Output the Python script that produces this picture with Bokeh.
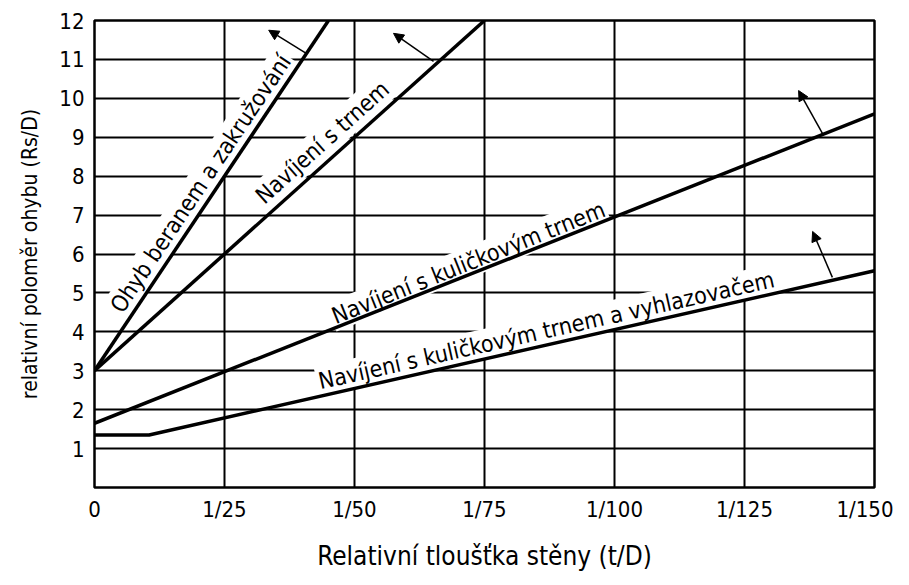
from bokeh.plotting import figure
from bokeh.models import ColumnDataSource, FixedTicker, Arrow, NormalHead, Range1d
from bokeh.embed import file_html
from bokeh.resources import INLINE
from bokeh.core.properties import value

FONT = "DejaVu Sans Condensed"

# axis ticks
x_ticks = [0, 25, 50, 75, 100, 125, 150]
x_labels = ["0", "1/25", "1/50", "1/75", "1/100", "1/125", "1/150"]
y_ticks = list(range(1, 13))
x_title = "Relativní tloušťka stěny (t/D)"
y_title = "relativní poloměr ohybu (Rs/D)"

# curves (x in units of denominator, y = Rs/D)
ohyb_x = [0, 45]
ohyb_y = [3, 12]
trn_x = [0, 75]
trn_y = [3, 12]
kul_x = [0, 150]
kul_y = [1.65, 9.6]
vyh_x = [0, 10.5, 150]
vyh_y = [1.35, 1.35, 5.57]

# curve labels
label_text = ["Ohyb beranem a zakružování",
              "Navíjení s trnem",
              "Navíjení s kuličkovým trnem",
              "Navíjení s kuličkovým trnem a vyhlazovačem"]
label_x = [20.4, 43.8, 71.9, 86.9]
label_y = [7.81, 8.87, 5.78, 4.04]
label_angle = [56.2, 41.9, 21.8, 12.7]

# arrows
arrow_x0 = [40.8, 65.2, 140.2, 141.9]
arrow_y0 = [11.15, 10.95, 9.05, 5.4]
arrow_x1 = [33.5, 57.5, 135.4, 138.1]
arrow_y1 = [11.75, 11.67, 10.2, 6.58]

p = figure(width=893, height=577, output_backend="svg", toolbar_location=None,
           x_range=Range1d(0, 150), y_range=Range1d(0, 12),
           min_border_left=94, min_border_right=19, min_border_top=20, min_border_bottom=90)

p.outline_line_color = "black"
p.outline_line_width = 2.5
p.outline_line_alpha = 1

for g in (p.xgrid, p.ygrid):
    g.grid_line_color = "black"
    g.grid_line_width = 2
    g.grid_line_alpha = 1
p.xgrid.ticker = FixedTicker(ticks=x_ticks)
p.ygrid.ticker = FixedTicker(ticks=y_ticks)

p.xaxis.ticker = FixedTicker(ticks=x_ticks)
p.xaxis.major_label_overrides = {t: l for t, l in zip(x_ticks, x_labels)}
p.yaxis.ticker = FixedTicker(ticks=y_ticks)
for ax in (p.xaxis, p.yaxis):
    ax.axis_line_color = None
    ax.major_tick_line_color = None
    ax.minor_tick_line_color = None
    ax.major_label_text_font = FONT
    ax.major_label_text_font_size = "22px"
    ax.major_label_text_color = "black"
    ax.axis_label_text_font = FONT
    ax.axis_label_text_font_style = "normal"
    ax.axis_label_text_color = "black"
p.xaxis.major_label_standoff = 3
p.yaxis.major_label_standoff = 4
p.xaxis.axis_label = x_title
p.xaxis.axis_label_text_font_size = "26px"
p.xaxis.axis_label_standoff = 16
p.yaxis.axis_label = y_title
p.yaxis.axis_label_text_font_size = "21px"
p.yaxis.axis_label_standoff = 14

lsrc = ColumnDataSource(dict(x=label_x, y=label_y, text=label_text, angle=label_angle))
p.text(x="x", y="y", text="text", angle="angle", angle_units="deg", source=lsrc,
       text_align="center", text_baseline="middle", text_font=value(FONT),
       text_font_size="23px", text_color="black",
       background_fill_color="white", padding=2)

for xs, ys in ((ohyb_x, ohyb_y), (trn_x, trn_y), (kul_x, kul_y), (vyh_x, vyh_y)):
    p.line(xs, ys, line_color="black", line_width=3.5)

asrc = ColumnDataSource(dict(x0=arrow_x0, y0=arrow_y0, x1=arrow_x1, y1=arrow_y1))
p.add_layout(Arrow(x_start="x0", y_start="y0", x_end="x1", y_end="y1", source=asrc,
                   line_color="black", line_width=1.5,
                   end=NormalHead(size=10, fill_color="black", line_color="black")))

open("out.html", "w").write(file_html(p, INLINE))
